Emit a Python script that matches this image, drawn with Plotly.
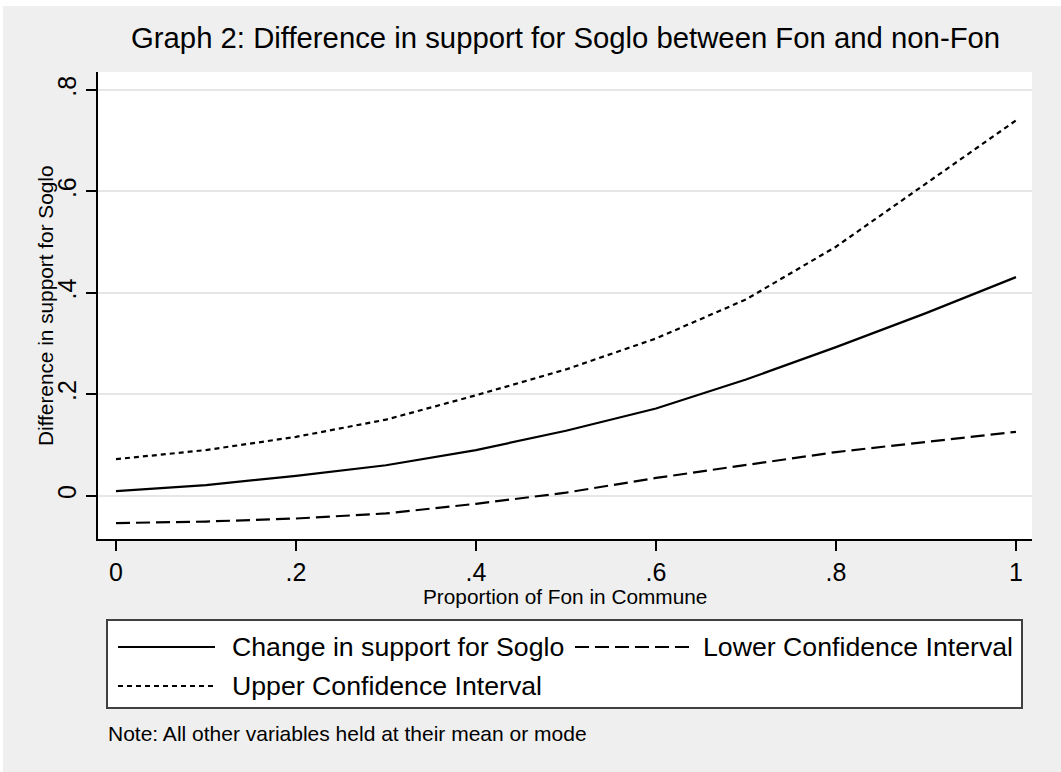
import plotly.graph_objects as go

# ---- data ----
proportion_fon = [0.0, 0.1, 0.2, 0.3, 0.4, 0.5, 0.6, 0.7, 0.8, 0.9, 1.0]
change_support = [0.009, 0.021, 0.039, 0.060, 0.090, 0.128, 0.172, 0.229, 0.293, 0.360, 0.431]
lower_ci = [-0.054, -0.051, -0.045, -0.035, -0.016, 0.006, 0.035, 0.060, 0.086, 0.106, 0.126]
upper_ci = [0.072, 0.090, 0.116, 0.150, 0.198, 0.249, 0.310, 0.387, 0.491, 0.615, 0.740]

x_tickvals = [0, 0.2, 0.4, 0.6, 0.8, 1.0]
x_ticktext = ["0", ".2", ".4", ".6", ".8", "1"]
y_tickvals = [0, 0.2, 0.4, 0.6, 0.8]
y_ticktext = ["0", ".2", ".4", ".6", ".8"]

series_names = ["Change in support for Soglo", "Lower Confidence Interval", "Upper Confidence Interval"]
title_text = "Graph 2: Difference in support for Soglo between Fon and non-Fon"
x_title = "Proportion of Fon in Commune"
y_title = "Difference in support for Soglo"
note_text = "Note: All other variables held at their mean or mode"

# ---- layout geometry (pixels) ----
W, H = 1061, 772
PL, PR, PT, PB = 98, 1032, 72, 539
FONT = "Liberation Sans, Arial, Helvetica, sans-serif"
BG = "#EFEFEF"

def px_x(p):
    return (p - PL) / (PR - PL)

def px_y(p):
    return (PB - p) / (PB - PT)

DASH_LOWER = "14px,6px"
DASH_UPPER = "5px,4px"
LW = 2.2

fig = go.Figure()
fig.add_trace(go.Scatter(x=proportion_fon, y=change_support, mode="lines", name=series_names[0],
                         line=dict(color="black", width=LW)))
fig.add_trace(go.Scatter(x=proportion_fon, y=lower_ci, mode="lines", name=series_names[1],
                         line=dict(color="black", width=LW, dash=DASH_LOWER)))
fig.add_trace(go.Scatter(x=proportion_fon, y=upper_ci, mode="lines", name=series_names[2],
                         line=dict(color="black", width=LW, dash=DASH_UPPER)))

shapes = []
# white strips at top/left edge of the image
shapes.append(dict(type="rect", xref="paper", yref="paper", x0=px_x(-5), x1=px_x(W + 5),
                   y0=px_y(6), y1=px_y(-5), fillcolor="white", line=dict(width=0)))
shapes.append(dict(type="rect", xref="paper", yref="paper", x0=px_x(-5), x1=px_x(3),
                   y0=px_y(H + 5), y1=px_y(-5), fillcolor="white", line=dict(width=0)))
# legend box
shapes.append(dict(type="rect", xref="paper", yref="paper", x0=px_x(107), x1=px_x(1022),
                   y0=px_y(708), y1=px_y(620), fillcolor="white",
                   line=dict(color="#404040", width=2)))
# legend samples
shapes.append(dict(type="line", xref="paper", yref="paper", x0=px_x(118), x1=px_x(215),
                   y0=px_y(647), y1=px_y(647), line=dict(color="black", width=LW)))
shapes.append(dict(type="line", xref="paper", yref="paper", x0=px_x(575), x1=px_x(690),
                   y0=px_y(647), y1=px_y(647), line=dict(color="black", width=LW, dash=DASH_LOWER)))
shapes.append(dict(type="line", xref="paper", yref="paper", x0=px_x(118), x1=px_x(215),
                   y0=px_y(686), y1=px_y(686), line=dict(color="black", width=LW, dash=DASH_UPPER)))

annotations = [
    dict(text=title_text, x=0.5, y=px_y(37), xref="paper", yref="paper", showarrow=False,
         xanchor="center", yanchor="middle", font=dict(family=FONT, size=29.3, color="black")),
    dict(text=x_title, x=px_x(565), y=px_y(596), xref="paper", yref="paper", showarrow=False,
         xanchor="center", yanchor="middle", font=dict(family=FONT, size=20.8, color="black")),
    dict(text=y_title, x=px_x(45), y=px_y(306), xref="paper", yref="paper", showarrow=False,
         xanchor="center", yanchor="middle", textangle=-90,
         font=dict(family=FONT, size=20.8, color="black")),
    dict(text=series_names[0], x=px_x(230), y=px_y(647), xref="paper", yref="paper", showarrow=False,
         xanchor="left", yanchor="middle", font=dict(family=FONT, size=26.7, color="black")),
    dict(text=series_names[1], x=px_x(701), y=px_y(647), xref="paper", yref="paper", showarrow=False,
         xanchor="left", yanchor="middle", font=dict(family=FONT, size=26.7, color="black")),
    dict(text=series_names[2], x=px_x(230), y=px_y(686), xref="paper", yref="paper", showarrow=False,
         xanchor="left", yanchor="middle", font=dict(family=FONT, size=26.7, color="black")),
    dict(text=note_text, x=px_x(106), y=px_y(733), xref="paper", yref="paper", showarrow=False,
         xanchor="left", yanchor="middle", font=dict(family=FONT, size=21, color="black")),
]

fig.update_layout(
    width=W, height=H,
    margin=dict(l=PL, r=W - PR, t=PT, b=H - PB, pad=0),
    paper_bgcolor=BG, plot_bgcolor="white",
    showlegend=False,
    shapes=shapes, annotations=annotations,
    font=dict(family=FONT, color="black"),
)
fig.update_xaxes(range=[-0.02, 1.0178], tickvals=x_tickvals, ticktext=x_ticktext,
                 ticks="outside", ticklen=10, tickwidth=1.5, tickcolor="black",
                 showline=True, linecolor="black", linewidth=1.5, mirror=False,
                 showgrid=False, zeroline=False,
                 tickfont=dict(family=FONT, size=25, color="black"))
fig.update_yaxes(range=[-0.0854, 0.8355], tickvals=y_tickvals, ticktext=y_ticktext,
                 ticks="outside", ticklen=10, tickwidth=1.5, tickcolor="black",
                 showline=True, linecolor="black", linewidth=1.5, mirror=False,
                 showgrid=True, gridcolor="#E6E6E6", gridwidth=2, zeroline=False,
                 tickangle=-90, tickfont=dict(family=FONT, size=25, color="black"))

fig.write_html("out.html", config={"displayModeBar": False},
               post_script="document.body.style.margin='0px';document.body.style.overflow='hidden';"
                           "document.body.style.background='" + BG + "';"
                           "document.documentElement.style.background='" + BG + "';")
